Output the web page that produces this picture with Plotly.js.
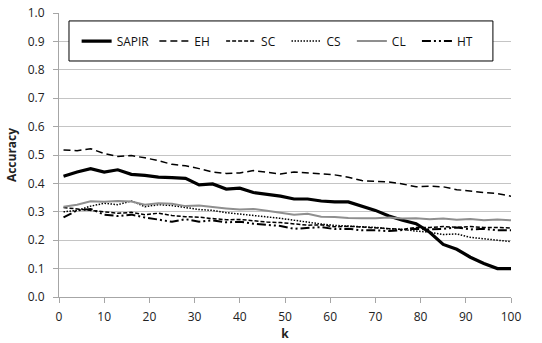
<!DOCTYPE html>
<html>
<head>
<meta charset="utf-8">
<script src="https://cdn.plot.ly/plotly-3.0.1.min.js"></script>
<style>html,body{margin:0;padding:0;background:#fff;}#chart{width:542px;height:343px;}</style>
</head>
<body>
<div id="chart"></div>
<script>
const k = [1,4,7,10,13,16,19,22,25,28,31,34,37,40,43,46,49,52,55,58,61,64,67,70,73,76,79,82,85,88,91,94,97,100];

const sapir = [0.425,0.44,0.452,0.44,0.448,0.432,0.428,0.422,0.42,0.418,0.395,0.398,0.38,0.383,0.368,0.362,0.355,0.345,0.345,0.338,0.335,0.335,0.32,0.305,0.285,0.27,0.258,0.228,0.185,0.168,0.14,0.118,0.1,0.1];
const eh = [0.518,0.515,0.522,0.505,0.495,0.498,0.49,0.48,0.467,0.462,0.452,0.44,0.435,0.437,0.445,0.438,0.433,0.44,0.436,0.432,0.43,0.422,0.41,0.407,0.405,0.398,0.388,0.39,0.388,0.378,0.372,0.368,0.364,0.355];
const sc = [0.315,0.31,0.305,0.3,0.295,0.298,0.29,0.295,0.287,0.283,0.281,0.276,0.272,0.273,0.268,0.264,0.262,0.258,0.253,0.254,0.247,0.249,0.246,0.243,0.24,0.238,0.245,0.245,0.248,0.245,0.248,0.245,0.245,0.243];
const cs = [0.3,0.305,0.32,0.33,0.325,0.338,0.318,0.325,0.322,0.315,0.308,0.305,0.297,0.292,0.288,0.282,0.277,0.27,0.263,0.257,0.252,0.25,0.247,0.245,0.24,0.238,0.232,0.228,0.22,0.222,0.21,0.205,0.2,0.195];
const cl = [0.318,0.325,0.337,0.335,0.338,0.336,0.325,0.33,0.328,0.32,0.322,0.316,0.312,0.308,0.31,0.304,0.298,0.29,0.293,0.283,0.282,0.278,0.277,0.277,0.28,0.276,0.277,0.274,0.276,0.272,0.275,0.27,0.273,0.27];
const ht = [0.28,0.305,0.31,0.29,0.285,0.29,0.28,0.272,0.265,0.274,0.265,0.27,0.263,0.265,0.258,0.254,0.25,0.24,0.242,0.246,0.239,0.24,0.235,0.235,0.232,0.235,0.24,0.238,0.24,0.245,0.238,0.24,0.235,0.235];

const xTicks = [0,10,20,30,40,50,60,70,80,90,100];
const yTicks = [0.0,0.1,0.2,0.3,0.4,0.5,0.6,0.7,0.8,0.9,1.0];

const FONT = 'Open Sans, Noto Sans, sans-serif';
const PAD = '\u00a0\u00a0';

const traces = [
  {name:'SAPIR', y:sapir, line:{color:'#000000', width:3.2}},
  {name:'EH' + PAD, y:eh, line:{color:'#000000', width:1.5, dash:'7px,4px'}},
  {name:'SC' + PAD, y:sc, line:{color:'#000000', width:1.5, dash:'4px,2px'}},
  {name:'CS' + PAD, y:cs, line:{color:'#000000', width:1.5, dash:'1.5px,1.5px'}},
  {name:'CL' + PAD, y:cl, line:{color:'#8f8f8f', width:2}},
  {name:'HT', y:ht, line:{color:'#000000', width:2, dash:'9px,3px,2px,3px,2px,3px'}}
].map(t => Object.assign({x:k, type:'scatter', mode:'lines'}, t));

const layout = {
  width:542, height:343,
  margin:{l:59, r:31, t:13, b:46, pad:0},
  paper_bgcolor:'#ffffff', plot_bgcolor:'#ffffff',
  font:{family:FONT, size:12, color:'#222'},
  showlegend:true,
  legend:{orientation:'h', x:0.039, xanchor:'left', y:0.901, yanchor:'middle',
          bgcolor:'rgba(0,0,0,0)', borderwidth:0, font:{family:FONT, size:12, color:'#111'}},
  shapes:[{type:'rect', xref:'paper', yref:'paper', x0:0.0221, x1:0.960, y0:0.831, y1:0.972,
           line:{color:'#000', width:1}, fillcolor:'#ffffff', layer:'above'}],
  xaxis:{range:[0,100], tickvals:xTicks, ticktext:xTicks.map(String), ticks:'outside', ticklen:5,
         tickcolor:'#a6a6a6', showline:true, linecolor:'#a6a6a6', linewidth:1, showgrid:false,
         zeroline:false, ticklabelstandoff:4, tickfont:{size:12, color:'#222'},
         title:{text:'<b>k</b>', font:{size:12, color:'#222'}, standoff:4}},
  yaxis:{range:[0,1], tickvals:yTicks, ticktext:yTicks.map(v=>v.toFixed(1)), ticks:'outside', ticklen:5,
         tickcolor:'#a6a6a6', showline:true, linecolor:'#a6a6a6', linewidth:1, showgrid:true,
         gridcolor:'#c4c4c4', gridwidth:1, zeroline:false, ticklabelstandoff:6,
         tickfont:{size:12, color:'#222'},
         title:{text:'<b>Accuracy</b>', font:{size:12, color:'#222'}, standoff:8}}
};

Plotly.newPlot('chart', traces, layout, {displayModeBar:false, staticPlot:true});
</script>
</body>
</html>
